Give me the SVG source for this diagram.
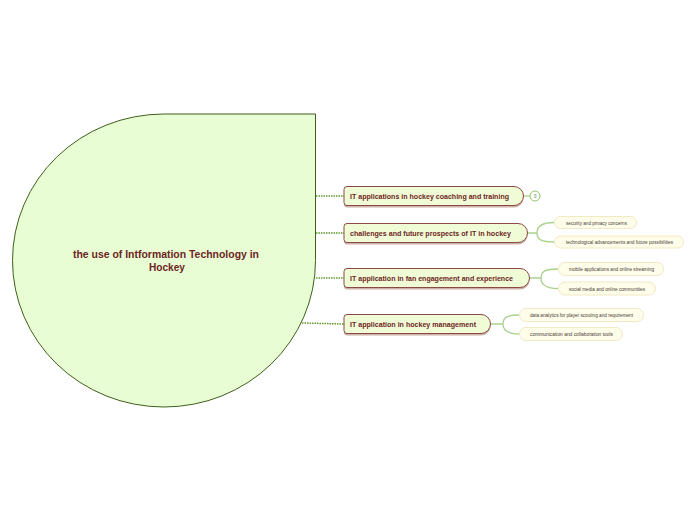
<svg xmlns="http://www.w3.org/2000/svg" width="696" height="520" viewBox="0 0 696 520">
<style>
.main-shape{fill:#effcd6;stroke:#8b4a45;stroke-width:1}
.shadow{fill:#cdb0a8;stroke:none}
.main-text{font-family:"Liberation Sans",Arial,sans-serif;font-weight:bold;font-size:7.5px;fill:#6e2424}
.child-shape{fill:#fdfde9;stroke:#f1e9c4;stroke-width:1}
.child-text{font-family:"Liberation Sans",Arial,sans-serif;font-size:5.5px;fill:#4a3a35}
.dotted{fill:none;stroke:#5f9a2c;stroke-width:1.5;stroke-dasharray:1.5 1}
.branch{fill:none;stroke:#a9d28d;stroke-width:1.3}
</style>
<rect width="696" height="520" fill="#ffffff"/>
<g id="connectors">
<path class="dotted" d="M316,196 L344,196"/>
<path class="dotted" d="M316,233 L344,233"/>
<path class="dotted" d="M316,278 L344,278"/>
<path class="dotted" d="M302,323 L344,324"/>
<path class="branch" d="M523,196 L530,196"/>
<path class="branch" d="M527,233 L537,233 M537,233 C537,226 542,222.5 554,222.5 M537,233 C537,240 542,242 554,242"/>
<path class="branch" d="M529,278 L541,278 M541,278 C541,271 546,269 558,269 M541,278 C541,285 546,288.5 558,288.5"/>
<path class="branch" d="M490,324 L503,324 M503,324 C503,317 508,315 519,315 M503,324 C503,331 508,334 519,334"/>
</g>
<g id="root">
<path d="M164,114 L315.5,114 L315.5,260.5 A151.5,146.5 0 1 1 164,114 Z" fill="#e8fdd3" stroke="#3f5f1c" stroke-width="1"/>
<text class="main-text" style="font-size:10px" x="166" y="258" text-anchor="middle" textLength="186" lengthAdjust="spacingAndGlyphs">the use of Intformation Technology in</text>
<text class="main-text" style="font-size:10px" x="167" y="271" text-anchor="middle" textLength="36" lengthAdjust="spacingAndGlyphs">Hockey</text>
</g>
<g id="node-coaching">
<path class="shadow" d="M347,187.5 L514,187.5 A9.5,9.5 0 0 1 514,206.5 L347,206.5 A3,3 0 0 1 344,203.5 L344,190.5 Z" transform="translate(0,1)"/>
<path class="main-shape" d="M347,186.5 L514,186.5 A9.5,9.5 0 0 1 514,205.5 L347,205.5 A3,3 0 0 1 344,202.5 L344,189.5 A3,3 0 0 1 347,186.5 Z"/>
<text class="main-text" x="350" y="198.5" textLength="159" lengthAdjust="spacingAndGlyphs">IT applications in hockey coaching and training</text>
<circle cx="535" cy="196" r="5" fill="#ffffff" stroke="#8cc46a" stroke-width="1"/>
<text x="535" y="198" text-anchor="middle" style="font-family:'Liberation Sans',Arial,sans-serif;font-size:5.5px;fill:#6a9a4a">3</text>
</g>
<g id="node-challenges">
<path class="shadow" d="M347,224.5 L518,224.5 A9.5,9.5 0 0 1 518,243.5 L347,243.5 A3,3 0 0 1 344,240.5 L344,227.5 Z" transform="translate(0,1)"/>
<path class="main-shape" d="M347,223.5 L518,223.5 A9.5,9.5 0 0 1 518,242.5 L347,242.5 A3,3 0 0 1 344,239.5 L344,226.5 A3,3 0 0 1 347,223.5 Z"/>
<text class="main-text" x="350" y="235.5" textLength="161" lengthAdjust="spacingAndGlyphs">challenges and future prospects of IT in  hockey</text>
</g>
<g id="node-fan">
<path class="shadow" d="M347,269.5 L520,269.5 A9.5,9.5 0 0 1 520,288.5 L347,288.5 A3,3 0 0 1 344,285.5 L344,272.5 Z" transform="translate(0,1)"/>
<path class="main-shape" d="M347,268.5 L520,268.5 A9.5,9.5 0 0 1 520,287.5 L347,287.5 A3,3 0 0 1 344,284.5 L344,271.5 A3,3 0 0 1 347,268.5 Z"/>
<text class="main-text" x="350" y="280.5" textLength="163" lengthAdjust="spacingAndGlyphs">IT application in fan engagement and experience</text>
</g>
<g id="node-management">
<path class="shadow" d="M347,315.5 L481,315.5 A9.5,9.5 0 0 1 481,334.5 L347,334.5 A3,3 0 0 1 344,331.5 L344,318.5 Z" transform="translate(0,1)"/>
<path class="main-shape" d="M347,314.5 L481,314.5 A9.5,9.5 0 0 1 481,333.5 L347,333.5 A3,3 0 0 1 344,330.5 L344,317.5 A3,3 0 0 1 347,314.5 Z"/>
<text class="main-text" x="350" y="326.5" textLength="126" lengthAdjust="spacingAndGlyphs">IT application in hockey management</text>
</g>
<g id="child-security">
<rect class="child-shape" x="554.5" y="216.5" width="82" height="12" rx="6"/>
<text class="child-text" x="566" y="224.5" textLength="61" lengthAdjust="spacingAndGlyphs">security and privacy concerns</text>
</g>
<g id="child-tech">
<rect class="child-shape" x="554.5" y="236" width="129" height="12" rx="6"/>
<text class="child-text" x="566" y="244" textLength="107" lengthAdjust="spacingAndGlyphs">technological advancements and future possibilities</text>
</g>
<g id="child-mobile">
<rect class="child-shape" x="558.5" y="262.5" width="105" height="13" rx="6.5"/>
<text class="child-text" x="569" y="271" textLength="85" lengthAdjust="spacingAndGlyphs">mobile applications and online streaming</text>
</g>
<g id="child-social">
<rect class="child-shape" x="558.5" y="282" width="97" height="13" rx="6.5"/>
<text class="child-text" x="569" y="290.5" textLength="76" lengthAdjust="spacingAndGlyphs">social media and online communities</text>
</g>
<g id="child-data">
<rect class="child-shape" x="519.5" y="308.5" width="124" height="13" rx="6.5"/>
<text class="child-text" x="530" y="317" textLength="103" lengthAdjust="spacingAndGlyphs">data analytics for player scouting and requirement</text>
</g>
<g id="child-communication">
<rect class="child-shape" x="519.5" y="327.5" width="103" height="13" rx="6.5"/>
<text class="child-text" x="530" y="336" textLength="83" lengthAdjust="spacingAndGlyphs">communication and collaboration tools</text>
</g>
</svg>
